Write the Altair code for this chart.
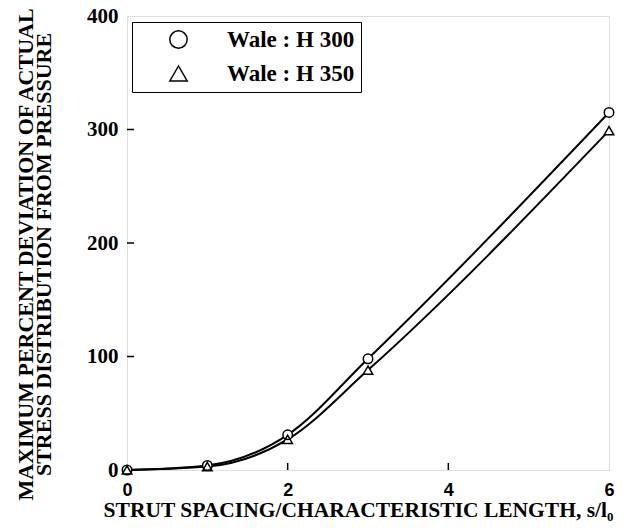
import altair as alt
import pandas as pd

x_vals = [0, 1, 2, 3, 6]
h300 = [0, 4, 31, 98, 315]
h350 = [0, 3, 27, 88, 299]
series_names = ["Wale : H 300", "Wale : H 350"]
shapes = ["circle", "triangle-up"]
x_ticks = [0, 2, 4, 6]
y_ticks = [0, 100, 200, 300, 400]

rows = []
for name, vals in zip(series_names, [h300, h350]):
    for xv, yv in zip(x_vals, vals):
        rows.append({"x": xv, "y": yv, "series": name})
df = pd.DataFrame(rows)

W, H = 482, 454
xscale = alt.Scale(domain=[0, 6], nice=False, zero=False)
yscale = alt.Scale(domain=[0, 400], nice=False)

serif = "Liberation Serif"
sans = "Liberation Sans"

x_axis = alt.Axis(values=x_ticks, format="d", ticks=False, grid=False, domain=False,
                  labelFlush=False,
                  labelFont=sans, labelFontWeight="bold", labelFontSize=18,
                  labelColor="black", labelPadding=11,
                  title="STRUT SPACING/CHARACTERISTIC LENGTH, s/l\u2080",
                  titleFont=serif, titleFontWeight="bold", titleFontSize=21.5,
                  titleColor="black", titleX=231, titleY=46,
                  titleBaseline="alphabetic", titleAnchor="middle")
y_axis = alt.Axis(values=y_ticks, format="d", ticks=False, grid=False, domain=False,
                  labelFlush=False,
                  labelFont=serif, labelFontWeight="bold", labelFontSize=21,
                  labelColor="black", labelPadding=9,
                  title=["MAXIMUM PERCENT DEVIATION OF ACTUAL",
                         "STRESS DISTRIBUTION FROM PRESSURE"],
                  titleFont=serif, titleFontWeight="bold", titleFontSize=22,
                  titleColor="black", titleX=-95, titleY=238,
                  titleBaseline="alphabetic", titleLineHeight=18,
                  titleAngle=270)

base = alt.Chart(df)

lines = base.mark_line(interpolate="monotone", color="black", strokeWidth=2).encode(
    x=alt.X("x:Q", scale=xscale, axis=x_axis),
    y=alt.Y("y:Q", scale=yscale, axis=y_axis),
    detail="series:N",
)

# white fill under each hollow marker
fills = [
    base.transform_filter(alt.datum.series == name).mark_point(
        shape=shp, filled=True, color="white", size=90, opacity=1
    ).encode(x=alt.X("x:Q", scale=xscale), y=alt.Y("y:Q", scale=yscale))
    for name, shp in zip(series_names, shapes)
]

points = base.mark_point(color="black", strokeWidth=1.5, size=90, opacity=1).encode(
    x=alt.X("x:Q", scale=xscale),
    y=alt.Y("y:Q", scale=yscale),
    shape=alt.Shape("series:N",
                    scale=alt.Scale(domain=series_names, range=shapes),
                    legend=alt.Legend(orient="none", legendX=5, legendY=6,
                                      title=None, strokeColor="black",
                                      padding=6, symbolOffset=29,
                                      symbolSize=300, symbolStrokeWidth=1.5,
                                      symbolOpacity=1,
                                      labelFont=serif, labelFontWeight="bold",
                                      labelFontSize=23, labelColor="black",
                                      labelOffset=37, rowPadding=10)),
)

tick_df = pd.DataFrame({"v": [2, 4]})
xticks = alt.Chart(tick_df).mark_rule(color="black", strokeWidth=1.5).encode(
    x=alt.X("v:Q", scale=xscale),
    y=alt.value(H), y2=alt.value(H - 7),
)
ytick_df = pd.DataFrame({"v": [100, 200, 300]})
yticks = alt.Chart(ytick_df).mark_rule(color="black", strokeWidth=1.5).encode(
    y=alt.Y("v:Q", scale=yscale),
    x=alt.value(0), x2=alt.value(7),
)

chart = alt.layer(lines, *fills, points, xticks, yticks).properties(
    width=W, height=H,
    autosize=alt.AutoSizeParams(type="none"),
    padding={"left": 119, "top": 8, "right": 10, "bottom": 61},
).configure_view(stroke="black", strokeWidth=2).configure(background="white")

chart.save("out.html", embed_options={"renderer": "svg", "actions": False})
